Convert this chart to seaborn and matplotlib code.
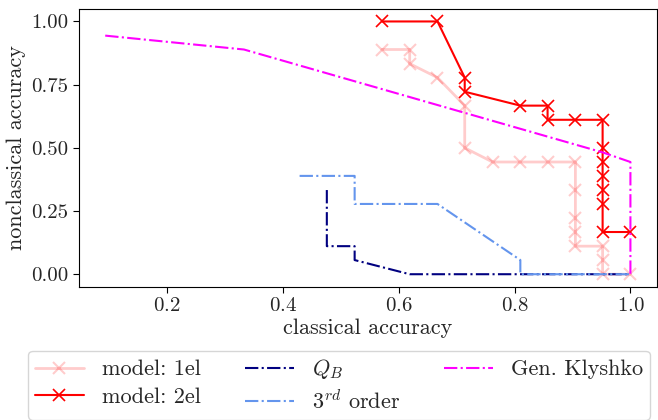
import numpy as np
import pandas as pd
import matplotlib
matplotlib.use("Agg")
import matplotlib.pyplot as plt
import seaborn as sns

# classical / nonclassical accuracy pairs
el1_x = [0.571, 0.619, 0.619, 0.667, 0.714, 0.714, 0.762, 0.810, 0.857, 0.905,
         0.905, 0.905, 0.905, 0.905, 0.952, 0.952, 0.952, 1.0]
el1_y = [0.889, 0.889, 0.833, 0.778, 0.667, 0.500, 0.444, 0.444, 0.444, 0.444,
         0.333, 0.222, 0.167, 0.111, 0.111, 0.056, 0.0, 0.0]

el2_x = [0.571, 0.667, 0.714, 0.714, 0.810, 0.857, 0.857, 0.905, 0.952, 0.952,
         0.952, 0.952, 0.952, 0.952, 0.952, 1.0]
el2_y = [1.0, 1.0, 0.778, 0.722, 0.667, 0.667, 0.611, 0.611, 0.611, 0.500,
         0.444, 0.389, 0.333, 0.278, 0.167, 0.167]

qb_x = [0.476, 0.476, 0.524, 0.524, 0.619, 1.0]
qb_y = [0.333, 0.111, 0.111, 0.056, 0.0, 0.0]

third_x = [0.429, 0.524, 0.524, 0.667, 0.810, 0.810, 1.0]
third_y = [0.389, 0.389, 0.278, 0.278, 0.056, 0.0, 0.0]

kly_x = [0.0935, 0.333, 0.952, 1.0, 1.0]
kly_y = [0.944, 0.889, 0.482, 0.444, 0.0]

sns.set_style("ticks")
plt.rcParams["font.family"] = "serif"
plt.rcParams["font.serif"] = ["cmr10", "DejaVu Serif"]
plt.rcParams["mathtext.fontset"] = "cm"
plt.rcParams["axes.formatter.use_mathtext"] = True
plt.rcParams["axes.edgecolor"] = "black"

fig, ax = plt.subplots(figsize=(6.58, 4.2), dpi=100)
fig.subplots_adjust(left=0.12, right=0.998, top=0.979, bottom=0.317)


def draw(x, y, **kw):
    df = pd.DataFrame({"x": x, "y": y})
    sns.lineplot(data=df, x="x", y="y", sort=False, estimator=None, ax=ax, **kw)


draw(el1_x, el1_y, color="red", alpha=0.2, lw=2, marker="x", markersize=9,
     mew=1.5, mec="red", label="model: 1el")
draw(el2_x, el2_y, color="red", lw=1.5, marker="x", markersize=9,
     mew=1.2, mec="red", label="model: 2el")
draw(qb_x, qb_y, color="navy", lw=1.5, linestyle="-.", label="$Q_B$")
draw(third_x, third_y, color="cornflowerblue", lw=1.5, linestyle="-.",
     label="$3^{rd}$ order")
draw(kly_x, kly_y, color="magenta", lw=1.5, linestyle="-.", label="Gen. Klyshko")

ax.set_xticks([0.2, 0.4, 0.6, 0.8, 1.0])
ax.set_yticks([0.0, 0.25, 0.5, 0.75, 1.0])
ax.set_yticklabels(["0.00", "0.25", "0.50", "0.75", "1.00"])
ax.tick_params(labelsize=15, direction="out", length=4, color="black")
ax.set_xlabel("classical accuracy", fontsize=16, labelpad=2)
ax.set_ylabel("nonclassical accuracy", fontsize=16, labelpad=4)

ax.legend(loc="upper center", bbox_to_anchor=(0.45, -0.19), ncol=3,
          fontsize=16, handlelength=2.2, columnspacing=2.0, frameon=True,
          fancybox=True, borderpad=0.3, labelspacing=0.35)

fig.savefig("out.png", dpi=100)
